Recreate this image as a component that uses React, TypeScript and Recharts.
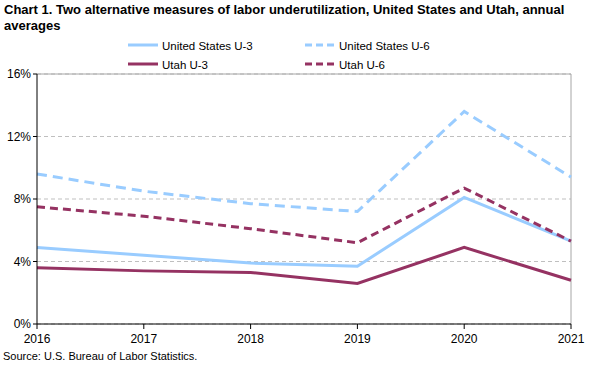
import { LineChart, Line, XAxis, YAxis, CartesianGrid, ReferenceLine } from "recharts";

const years = [2016, 2017, 2018, 2019, 2020, 2021];
const usU3 = [4.9, 4.4, 3.9, 3.7, 8.1, 5.3];
const usU6 = [9.6, 8.5, 7.7, 7.2, 13.6, 9.4];
const utU3 = [3.6, 3.4, 3.3, 2.6, 4.9, 2.8];
const utU6 = [7.5, 6.9, 6.1, 5.2, 8.7, 5.3];
const yTicks = [0, 4, 8, 12, 16];

const BLUE = "#99ccff";
const MAROON = "#953262";
const FONT = "'Liberation Sans', Arial, sans-serif";

const data = years.map((y, i) => ({
  year: y,
  usU3: usU3[i],
  usU6: usU6[i],
  utU3: utU3[i],
  utU6: utU6[i],
}));

const legendItems = [
  { name: "United States U-3", color: BLUE, dashed: false, x: 128, y: 45 },
  { name: "United States U-6", color: BLUE, dashed: true, x: 305, y: 45 },
  { name: "Utah U-3", color: MAROON, dashed: false, x: 128, y: 64 },
  { name: "Utah U-6", color: MAROON, dashed: true, x: 305, y: 64 },
];

const tickStyle = { fontSize: 12, fill: "#000", fontFamily: FONT };

export default function App() {
  return (
    <div style={{ position: "absolute", left: 0, top: 0, width: 596, height: 366, background: "#fff", fontFamily: FONT }}>
      <div style={{ position: "absolute", left: 4, top: 2, fontSize: 13, fontWeight: "bold", lineHeight: "16px", width: 590 }}>
        Chart 1. Two alternative measures of labor underutilization, United States and Utah, annual averages
      </div>
      <svg width={596} height={366} style={{ position: "absolute", left: 0, top: 0, pointerEvents: "none" }}>
        {legendItems.map((it) => (
          <g key={it.name}>
            <line
              x1={it.x}
              x2={it.x + 30}
              y1={it.y}
              y2={it.y}
              stroke={it.color}
              strokeWidth={3}
              strokeDasharray={it.dashed ? "7 4" : undefined}
            />
            <text x={it.x + 34} y={it.y + 4.5} fontSize={11.5} fontFamily={FONT} fill="#000">
              {it.name}
            </text>
          </g>
        ))}
      </svg>
      <LineChart width={596} height={366} data={data} margin={{ top: 74, right: 25, bottom: 22, left: 0 }} style={{ position: "absolute", left: 0, top: 0 }}>
        <CartesianGrid vertical={false} stroke="#bfbfbf" strokeDasharray="4 3" />
        <ReferenceLine y={16} stroke="#a6a6a6" />
        <ReferenceLine x={2021} stroke="#a6a6a6" />
        <XAxis
          dataKey="year"
          type="number"
          domain={[2016, 2021]}
          ticks={years}
          tick={tickStyle}
          stroke="#000"
          tickSize={5}
          tickMargin={5}
          height={20}
        />
        <YAxis
          domain={[0, 16]}
          ticks={yTicks}
          tickFormatter={(v) => `${v}%`}
          tick={tickStyle}
          stroke="#000"
          tickSize={4}
          tickMargin={2}
          width={37}
        />
        <Line dataKey="usU3" stroke={BLUE} strokeWidth={3} dot={false} isAnimationActive={false} />
        <Line dataKey="usU6" stroke={BLUE} strokeWidth={3} strokeDasharray="10 6" dot={false} isAnimationActive={false} />
        <Line dataKey="utU3" stroke={MAROON} strokeWidth={3} dot={false} isAnimationActive={false} />
        <Line dataKey="utU6" stroke={MAROON} strokeWidth={3} strokeDasharray="8 5" dot={false} isAnimationActive={false} />
      </LineChart>
      <div style={{ position: "absolute", left: 3, top: 350, fontSize: 11 }}>Source: U.S. Bureau of Labor Statistics.</div>
    </div>
  );
}
